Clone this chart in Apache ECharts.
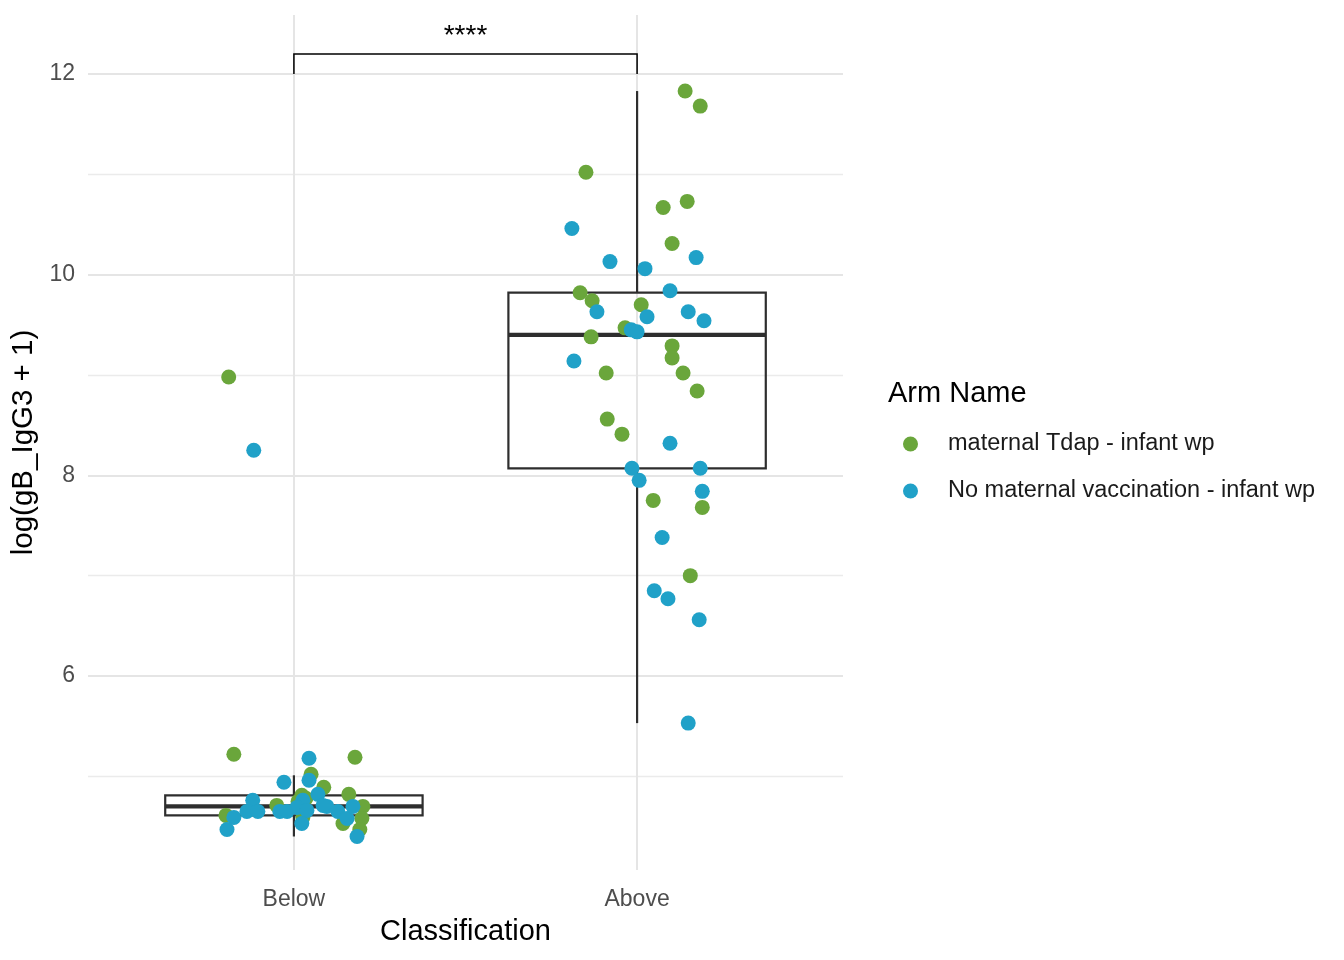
<!DOCTYPE html>
<html>
<head>
<meta charset="utf-8">
<script src="https://cdn.jsdelivr.net/npm/echarts@6/dist/echarts.min.js"></script>
<style>html,body{margin:0;padding:0;background:#fff}#chart{width:1344px;height:960px}</style>
</head>
<body>
<div id="chart"></div>
<script>
// ---- data ----
const categories = ['Below', 'Above'];
const yTickValues = [6, 8, 10, 12];
const armNames = ['maternal Tdap - infant wp', 'No maternal vaccination - infant wp'];

// jittered x positions (1 = Below, 2 = Above) and values
const tdapX = [0.825,1.178,1.050,1.087,1.160,1.023,0.950,0.802,1.201,1.026,1.143,1.198,1.192,0.810,1.012,1.035,
  2.140,2.184,1.851,2.076,2.146,2.102,1.834,1.869,2.012,1.965,1.866,2.102,2.102,1.910,2.134,2.175,1.913,1.956,2.047,2.190,2.155];
const tdapY = [5.22,5.19,5.02,4.89,4.82,4.81,4.71,4.61,4.70,4.59,4.53,4.58,4.47,8.98,4.75,4.78,
  11.83,11.68,11.02,10.67,10.73,10.31,9.82,9.74,9.70,9.47,9.38,9.29,9.17,9.02,9.02,8.84,8.56,8.41,7.75,7.68,7.00];

const noVaxX = [0.883,1.044,0.971,1.044,0.880,1.070,1.026,0.863,0.895,0.825,0.805,0.959,0.980,1.009,1.038,1.023,1.096,1.128,1.155,1.172,1.184,1.085,
  1.810,1.921,2.023,2.172,2.096,1.883,2.149,2.029,2.195,1.983,2.000,1.816,2.096,1.985,2.184,2.006,2.190,2.073,2.050,2.090,2.181,2.149];
const noVaxY = [8.25,5.18,4.94,4.96,4.76,4.82,4.76,4.65,4.65,4.59,4.47,4.65,4.65,4.69,4.66,4.53,4.70,4.65,4.58,4.70,4.40,4.71,
  10.46,10.13,10.06,10.17,9.84,9.63,9.63,9.58,9.54,9.45,9.43,9.14,8.32,8.07,8.07,7.95,7.84,7.38,6.85,6.77,6.56,5.53];

// box stats: [category position, lower whisker, Q1, median, Q3, upper whisker]
const boxBelow = [1, 4.40, 4.61, 4.70, 4.81, 5.01];
const boxAbove = [2, 5.53, 8.07, 9.40, 9.82, 11.83];

// significance bracket: [x1, x2, bar level, tip level]
const bracket = [1, 2, 12.2, 12.0];
const sigLabel = '****';

// ---- chart ----
const FONT = '"Liberation Sans", Arial, Helvetica, sans-serif';
const GREEN = '#6aa63b', BLUE = '#20a1c8';
const zip = (xs, ys) => xs.map((x, i) => [x, ys[i]]);

const chart = echarts.init(document.getElementById('chart'), null, {renderer: 'canvas'});

const minorLine = {color: '#ebebeb', width: 1.3, type: 'solid'};
const majorLine = {color: '#e5e5e5', width: 2, type: 'solid'};
const gridLines = [];
[5, 7, 9, 11].forEach(v => gridLines.push({yAxis: v, lineStyle: minorLine}));
yTickValues.forEach(v => gridLines.push({yAxis: v, lineStyle: majorLine}));
[1, 2].forEach(v => gridLines.push({xAxis: v, lineStyle: majorLine}));

chart.setOption({
  animation: false,
  backgroundColor: '#ffffff',
  textStyle: {fontFamily: FONT},
  title: {
    text: 'Arm Name', left: 883, top: 374,
    textStyle: {fontFamily: FONT, fontSize: 29, fontWeight: 'normal', color: '#000'}
  },
  legend: {
    data: armNames,
    orient: 'vertical', left: 898, top: 427,
    icon: 'circle', itemWidth: 15, itemHeight: 15, itemGap: 23,
    textStyle: {fontFamily: FONT, fontSize: 23.5, color: '#1a1a1a', lineHeight: 24, padding: [0, 0, 0, 25]}
  },
  grid: {left: 88, right: 501, top: 15, bottom: 90},
  xAxis: {
    type: 'value', min: 0.4, max: 2.6,
    axisLine: {show: false}, axisTick: {show: false}, splitLine: {show: false},
    axisLabel: {
      customValues: [1, 2],
      formatter: v => categories[Math.round(v) - 1] || '',
      fontFamily: FONT, fontSize: 23, color: '#4d4d4d', margin: 18
    },
    name: 'Classification', nameLocation: 'middle', nameGap: 47,
    nameTextStyle: {fontFamily: FONT, fontSize: 29, color: '#000'}
  },
  yAxis: {
    type: 'value', min: 4.066, max: 12.588,
    axisLine: {show: false}, axisTick: {show: false}, splitLine: {show: false},
    axisLabel: {customValues: yTickValues, fontFamily: FONT, fontSize: 23, color: '#4d4d4d', margin: 13, padding: [4, 0, 0, 0]},
    name: 'log(gB_IgG3 + 1)', nameLocation: 'middle', nameGap: 47, nameRotate: 90,
    nameTextStyle: {fontFamily: FONT, fontSize: 29.5, color: '#000'}
  },
  series: [
    {
      type: 'scatter', data: [], silent: true, z: 1,
      markLine: {silent: true, symbol: ['none', 'none'], z: 1, label: {show: false}, emphasis: {disabled: true}, data: gridLines}
    },
    {
      type: 'custom', name: 'box', z: 3, silent: true,
      data: [boxBelow, boxAbove],
      renderItem: function (params, api) {
        const x = api.value(0);
        const left = api.coord([x - 0.375, 0])[0];
        const right = api.coord([x + 0.375, 0])[0];
        const cx = api.coord([x, 0])[0];
        const yLow = api.coord([x, api.value(1)])[1];
        const yQ1 = api.coord([x, api.value(2)])[1];
        const yMed = api.coord([x, api.value(3)])[1];
        const yQ3 = api.coord([x, api.value(4)])[1];
        const yHigh = api.coord([x, api.value(5)])[1];
        const st = {stroke: '#2e2e2e', lineWidth: 2.2, fill: null};
        return {
          type: 'group',
          children: [
            {type: 'line', shape: {x1: cx, y1: yQ3, x2: cx, y2: yHigh}, style: st},
            {type: 'line', shape: {x1: cx, y1: yQ1, x2: cx, y2: yLow}, style: st},
            {type: 'rect', shape: {x: left, y: yQ3, width: right - left, height: yQ1 - yQ3}, style: {stroke: '#2e2e2e', lineWidth: 2.2, fill: 'rgba(0,0,0,0)'}},
            {type: 'line', shape: {x1: left, y1: yMed, x2: right, y2: yMed}, style: {stroke: '#2e2e2e', lineWidth: 4.2}}
          ]
        };
      }
    },
    {
      type: 'scatter', name: armNames[0], z: 4,
      data: zip(tdapX, tdapY), symbolSize: 15,
      itemStyle: {color: GREEN, opacity: 1}
    },
    {
      type: 'scatter', name: armNames[1], z: 4,
      data: zip(noVaxX, noVaxY), symbolSize: 15,
      itemStyle: {color: BLUE, opacity: 1}
    },
    {
      type: 'custom', name: 'bracket', z: 5, silent: true,
      data: [bracket],
      renderItem: function (params, api) {
        const p1 = api.coord([api.value(0), api.value(2)]);
        const p2 = api.coord([api.value(1), api.value(2)]);
        const t1 = api.coord([api.value(0), api.value(3)]);
        const t2 = api.coord([api.value(1), api.value(3)]);
        return {
          type: 'group',
          children: [
            {type: 'polyline', shape: {points: [t1, p1, p2, t2]}, style: {stroke: '#000', lineWidth: 1.5, fill: null}},
            {type: 'text', style: {text: sigLabel, x: (p1[0] + p2[0]) / 2, y: p1[1] - 4, align: 'center', verticalAlign: 'bottom', fontFamily: FONT, fontSize: 28, fill: '#000'}}
          ]
        };
      }
    }
  ]
});
</script>
</body>
</html>
